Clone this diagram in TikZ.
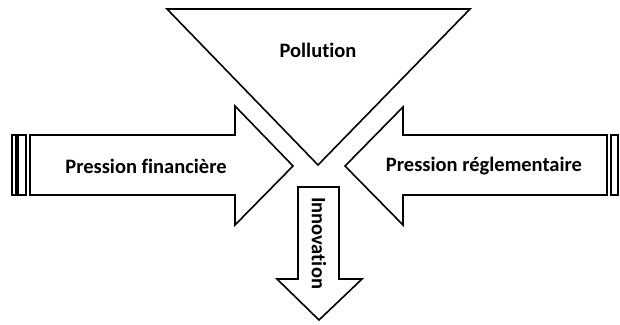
\documentclass[tikz,border=0pt]{standalone}
\usepackage{fontspec}
\setmainfont[Ligatures=NoCommon]{Carlito}

\tikzset{
  forme/.style={draw, line width=1.6pt, line join=miter, fill=white},
  texte/.style={font=\fontsize{20.5}{24}\selectfont\bfseries, inner sep=0pt}
}

\begin{document}
\begin{tikzpicture}[x=1pt, y=-1pt]

  \useasboundingbox (0,0) rectangle (620,324);

  % triangle du haut
  \draw[forme] (167,9) -- (470,9) -- (318,165) -- cycle;
  \node[texte] (pollution) at (318,50) {Pollution};

  % fleche de gauche
  \draw[forme] (12,135) rectangle (16,195);
  \draw[forme] (18,135) rectangle (26,195);
  \draw[forme] (30,135) -- (235,135) -- (235,106) -- (293,166) -- (235,225)
    -- (235,195) -- (30,195) -- cycle;
  \node[texte] (financiere) at (146,166) {Pression financière};

  % fleche de droite
  \draw[forme] (611,135) rectangle (618,195);
  \draw[forme] (607,135) -- (403,135) -- (403,107) -- (345,166) -- (403,225)
    -- (403,195) -- (607,195) -- cycle;
  \node[texte] (reglementaire) at (484,166) {Pression réglementaire};

  % fleche du bas
  \draw[forme] (298,187) -- (339,187) -- (339,279) -- (362,279) -- (319,320)
    -- (277,279) -- (298,279) -- cycle;
  \node[texte, rotate=-90] (innovation) at (319,243) {Innovation};

\end{tikzpicture}
\end{document}
